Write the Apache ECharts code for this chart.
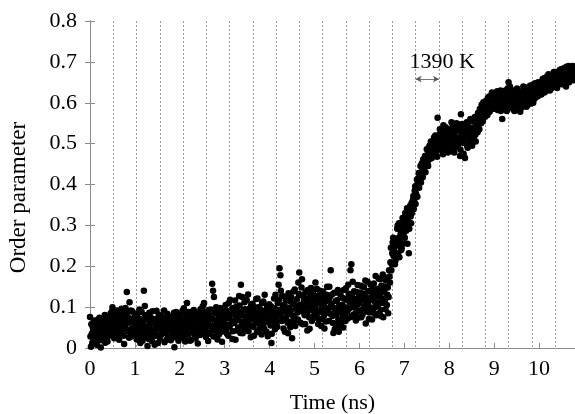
<!DOCTYPE html>
<html>
<head>
<meta charset="utf-8">
<script src="https://cdn.jsdelivr.net/npm/echarts@6/dist/echarts.min.js"></script>
<style>
html,body{margin:0;padding:0;background:#fff;}
#chart{width:575px;height:414px;}
</style>
</head>
<body>
<div id="chart"></div>
<script>
// Order parameter vs time (ns): [time_ns, order_parameter]
const t0to1 = [[0.00,0.076],[0.02,0.003],[0.04,0.035],[0.06,0.052],[0.08,0.018],[0.10,0.044],[0.12,0.061],[0.14,0.027],[0.16,0.039],[0.18,0.070],
[0.20,0.022],[0.22,0.048],[0.24,0.001],[0.26,0.057],[0.28,0.034],[0.30,0.066],[0.32,0.041],[0.34,0.013],[0.36,0.078],[0.38,0.050],
[0.40,0.029],[0.42,0.062],[0.44,0.045],[0.46,0.085],[0.48,0.037],[0.50,0.100],[0.52,0.055],[0.54,0.024],[0.56,0.071],[0.58,0.047],
[0.60,0.092],[0.62,0.060],[0.64,0.033],[0.66,0.082],[0.68,0.054],[0.70,0.096],[0.72,0.043],[0.74,0.069],[0.76,0.010],[0.78,0.087],
[0.80,0.058],[0.82,0.137],[0.84,0.075],[0.86,0.040],[0.88,0.112],[0.90,0.064],[0.92,0.028],[0.94,0.090],[0.96,0.051],[0.98,0.073],
[0.01,0.028],[0.03,0.058],[0.05,0.012],[0.07,0.042],[0.09,0.067],[0.11,0.030],[0.13,0.050],[0.15,0.008],[0.17,0.056],[0.19,0.036],
[0.21,0.074],[0.23,0.019],[0.25,0.046],[0.27,0.063],[0.29,0.025],[0.31,0.053],[0.33,0.081],[0.35,0.038],[0.37,0.060],[0.39,0.016],
[0.41,0.072],[0.43,0.052],[0.45,0.031],[0.47,0.065],[0.49,0.090],[0.51,0.043],[0.53,0.076],[0.55,0.060],[0.57,0.034],[0.59,0.082],
[0.61,0.049],[0.63,0.070],[0.65,0.020],[0.67,0.061],[0.69,0.040],[0.71,0.079],[0.73,0.055],[0.75,0.030],[0.77,0.068],[0.79,0.098],
[0.81,0.045],[0.83,0.080],[0.85,0.062],[0.87,0.025],[0.89,0.071],[0.91,0.092],[0.93,0.048],[0.95,0.066],[0.97,0.035],[0.99,0.084]];
const t1to2 = [[1.00,0.046],[1.02,0.083],[1.04,0.021],[1.06,0.059],[1.08,0.037],[1.10,0.094],[1.12,0.012],[1.14,0.068],[1.16,0.031],[1.18,0.052],
[1.20,0.140],[1.22,0.103],[1.24,0.026],[1.26,0.074],[1.28,0.005],[1.30,0.049],[1.32,0.086],[1.34,0.035],[1.36,0.061],[1.38,0.017],
[1.40,0.070],[1.42,0.044],[1.44,0.008],[1.46,0.057],[1.48,0.091],[1.50,0.030],[1.52,0.066],[1.54,0.048],[1.56,0.023],[1.58,0.079],
[1.60,0.055],[1.62,0.038],[1.64,0.072],[1.66,0.014],[1.68,0.060],[1.70,0.042],[1.72,0.084],[1.74,0.027],[1.76,0.065],[1.78,0.050],
[1.80,0.019],[1.82,0.077],[1.84,0.036],[1.86,0.058],[1.88,0.002],[1.90,0.047],[1.92,0.088],[1.94,0.033],[1.96,0.063],[1.98,0.040],
[1.01,0.062],[1.03,0.040],[1.05,0.078],[1.07,0.025],[1.09,0.056],[1.11,0.071],[1.13,0.044],[1.15,0.088],[1.17,0.018],[1.19,0.064],
[1.21,0.035],[1.23,0.080],[1.25,0.052],[1.27,0.041],[1.29,0.069],[1.31,0.022],[1.33,0.058],[1.35,0.075],[1.37,0.045],[1.39,0.090],
[1.41,0.028],[1.43,0.063],[1.45,0.039],[1.47,0.071],[1.49,0.053],[1.51,0.012],[1.53,0.082],[1.55,0.046],[1.57,0.060],[1.59,0.033],
[1.61,0.073],[1.63,0.050],[1.65,0.092],[1.67,0.037],[1.69,0.067],[1.71,0.021],[1.73,0.055],[1.75,0.078],[1.77,0.043],[1.79,0.062],
[1.81,0.030],[1.83,0.069],[1.85,0.052],[1.87,0.086],[1.89,0.026],[1.91,0.061],[1.93,0.045],[1.95,0.075],[1.97,0.018],[1.99,0.057]];
const t2to3 = [[2.00,0.072],[2.02,0.025],[2.04,0.056],[2.06,0.091],[2.08,0.043],[2.10,0.067],[2.12,0.016],[2.14,0.080],[2.16,0.110],[2.18,0.052],
[2.20,0.034],[2.22,0.075],[2.24,0.061],[2.26,0.020],[2.28,0.089],[2.30,0.047],[2.32,0.068],[2.34,0.031],[2.36,0.082],[2.38,0.058],
[2.40,0.011],[2.42,0.073],[2.44,0.045],[2.46,0.095],[2.48,0.038],[2.50,0.064],[2.52,0.084],[2.54,0.110],[2.56,0.050],[2.58,0.027],
[2.60,0.077],[2.62,0.060],[2.64,0.093],[2.66,0.035],[2.68,0.070],[2.70,0.054],[2.72,0.157],[2.74,0.140],[2.76,0.125],[2.78,0.066],
[2.80,0.042],[2.82,0.086],[2.84,0.021],[2.86,0.074],[2.88,0.057],[2.90,0.098],[2.92,0.039],[2.94,0.015],[2.96,0.081],[2.98,0.062],
[2.01,0.048],[2.03,0.083],[2.05,0.036],[2.07,0.062],[2.09,0.097],[2.11,0.054],[2.13,0.029],[2.15,0.071],[2.17,0.045],[2.19,0.088],
[2.21,0.059],[2.23,0.018],[2.25,0.076],[2.27,0.042],[2.29,0.066],[2.31,0.093],[2.33,0.051],[2.35,0.024],[2.37,0.070],[2.39,0.040],
[2.41,0.085],[2.43,0.057],[2.45,0.032],[2.47,0.074],[2.49,0.060],[2.51,0.102],[2.53,0.046],[2.55,0.068],[2.57,0.088],[2.59,0.039],
[2.61,0.061],[2.63,0.017],[2.65,0.079],[2.67,0.053],[2.69,0.094],[2.71,0.043],[2.73,0.072],[2.75,0.028],[2.77,0.086],[2.79,0.058],
[2.81,0.100],[2.83,0.049],[2.85,0.067],[2.87,0.033],[2.89,0.078],[2.91,0.055],[2.93,0.091],[2.95,0.070],[2.97,0.044],[2.99,0.087]];
const t3to4 = [[3.00,0.070],[3.02,0.105],[3.04,0.048],[3.06,0.088],[3.08,0.030],[3.10,0.076],[3.12,0.118],[3.14,0.059],[3.16,0.095],[3.18,0.041],
[3.20,0.083],[3.22,0.064],[3.24,0.020],[3.26,0.101],[3.28,0.072],[3.30,0.050],[3.32,0.127],[3.34,0.086],[3.36,0.155],[3.38,0.061],
[3.40,0.036],[3.42,0.093],[3.44,0.112],[3.46,0.068],[3.48,0.045],[3.50,0.080],[3.52,0.131],[3.54,0.057],[3.56,0.097],[3.58,0.026],
[3.60,0.074],[3.62,0.108],[3.64,0.052],[3.66,0.089],[3.68,0.066],[3.70,0.120],[3.72,0.039],[3.74,0.079],[3.76,0.100],[3.78,0.058],
[3.80,0.085],[3.82,0.033],[3.84,0.071],[3.86,0.114],[3.88,0.047],[3.90,0.092],[3.92,0.063],[3.94,0.104],[3.96,0.029],[3.98,0.077],
[3.01,0.058],[3.03,0.092],[3.05,0.035],[3.07,0.074],[3.09,0.110],[3.11,0.053],[3.13,0.085],[3.15,0.067],[3.17,0.022],[3.19,0.098],
[3.21,0.061],[3.23,0.116],[3.25,0.078],[3.27,0.043],[3.29,0.090],[3.31,0.069],[3.33,0.104],[3.35,0.037],[3.37,0.081],[3.39,0.125],
[3.41,0.064],[3.43,0.049],[3.45,0.095],[3.47,0.076],[3.49,0.117],[3.51,0.060],[3.53,0.041],[3.55,0.087],[3.57,0.070],[3.59,0.106],
[3.61,0.054],[3.63,0.091],[3.65,0.030],[3.67,0.079],[3.69,0.099],[3.71,0.062],[3.73,0.121],[3.75,0.083],[3.77,0.046],[3.79,0.095],
[3.81,0.072],[3.83,0.110],[3.85,0.057],[3.87,0.088],[3.89,0.130],[3.91,0.075],[3.93,0.040],[3.95,0.096],[3.97,0.064],[3.99,0.107]];
const t4to5 = [[4.00,0.083],[4.02,0.055],[4.04,0.012],[4.06,0.098],[4.08,0.070],[4.10,0.121],[4.12,0.046],[4.14,0.088],[4.16,0.064],[4.18,0.110],
[4.20,0.155],[4.22,0.195],[4.24,0.178],[4.26,0.092],[4.28,0.128],[4.30,0.073],[4.32,0.105],[4.34,0.040],[4.36,0.116],[4.38,0.085],
[4.40,0.062],[4.42,0.134],[4.44,0.097],[4.46,0.051],[4.48,0.124],[4.50,0.024],[4.52,0.079],[4.54,0.110],[4.56,0.143],[4.58,0.068],
[4.60,0.101],[4.62,0.087],[4.64,0.160],[4.66,0.185],[4.68,0.130],[4.70,0.094],[4.72,0.168],[4.74,0.058],[4.76,0.113],[4.78,0.080],
[4.80,0.137],[4.82,0.100],[4.84,0.043],[4.86,0.122],[4.88,0.075],[4.90,0.108],[4.92,0.147],[4.94,0.066],[4.96,0.091],[4.98,0.118],
[4.01,0.068],[4.03,0.102],[4.05,0.035],[4.07,0.084],[4.09,0.060],[4.11,0.097],[4.13,0.130],[4.15,0.074],[4.17,0.052],[4.19,0.093],
[4.21,0.118],[4.23,0.081],[4.25,0.140],[4.27,0.066],[4.29,0.104],[4.31,0.048],[4.33,0.089],[4.35,0.125],[4.37,0.071],[4.39,0.099],
[4.41,0.036],[4.43,0.083],[4.45,0.115],[4.47,0.092],[4.49,0.065],[4.51,0.108],[4.53,0.138],[4.55,0.077],[4.57,0.054],[4.59,0.096],
[4.61,0.120],[4.63,0.070],[4.65,0.132],[4.67,0.105],[4.69,0.062],[4.71,0.148],[4.73,0.089],[4.75,0.126],[4.77,0.101],[4.79,0.059],
[4.81,0.114],[4.83,0.085],[4.85,0.142],[4.87,0.097],[4.89,0.047],[4.91,0.128],[4.93,0.106],[4.95,0.076],[4.97,0.134],[4.99,0.093]];
const t5to6 = [[5.00,0.104],[5.02,0.160],[5.04,0.082],[5.06,0.127],[5.08,0.059],[5.10,0.113],[5.12,0.140],[5.14,0.090],[5.16,0.071],[5.18,0.132],
[5.20,0.101],[5.22,0.048],[5.24,0.119],[5.26,0.086],[5.28,0.150],[5.30,0.097],[5.32,0.066],[5.34,0.125],[5.36,0.190],[5.38,0.108],
[5.40,0.078],[5.42,0.037],[5.44,0.135],[5.46,0.093],[5.48,0.056],[5.50,0.117],[5.52,0.142],[5.54,0.040],[5.56,0.088],[5.58,0.129],
[5.60,0.063],[5.62,0.106],[5.64,0.050],[5.66,0.121],[5.68,0.084],[5.70,0.146],[5.72,0.098],[5.74,0.072],[5.76,0.133],[5.78,0.112],
[5.80,0.190],[5.82,0.205],[5.84,0.124],[5.86,0.081],[5.88,0.139],[5.90,0.102],[5.92,0.067],[5.94,0.118],[5.96,0.154],[5.98,0.090],
[5.01,0.125],[5.03,0.095],[5.05,0.145],[5.07,0.073],[5.09,0.109],[5.11,0.088],[5.13,0.122],[5.15,0.054],[5.17,0.100],[5.19,0.138],
[5.21,0.079],[5.23,0.112],[5.25,0.065],[5.27,0.130],[5.29,0.092],[5.31,0.117],[5.33,0.150],[5.35,0.084],[5.37,0.104],[5.39,0.131],
[5.41,0.061],[5.43,0.098],[5.45,0.046],[5.47,0.115],[5.49,0.082],[5.51,0.136],[5.53,0.070],[5.55,0.104],[5.57,0.052],[5.59,0.094],
[5.61,0.123],[5.63,0.078],[5.65,0.142],[5.67,0.100],[5.69,0.066],[5.71,0.118],[5.73,0.089],[5.75,0.155],[5.77,0.096],[5.79,0.128],
[5.81,0.076],[5.83,0.110],[5.85,0.162],[5.87,0.100],[5.89,0.120],[5.91,0.085],[5.93,0.137],[5.95,0.106],[5.97,0.074],[5.99,0.127]];
const t6to7 = [[6.00,0.110],[6.02,0.136],[6.04,0.075],[6.06,0.128],[6.08,0.096],[6.10,0.149],[6.12,0.115],[6.14,0.060],[6.16,0.123],[6.18,0.162],
[6.20,0.104],[6.22,0.087],[6.24,0.140],[6.26,0.119],[6.28,0.070],[6.30,0.131],[6.32,0.158],[6.34,0.099],[6.36,0.176],[6.38,0.126],
[6.40,0.083],[6.42,0.145],[6.44,0.112],[6.46,0.168],[6.48,0.078],[6.50,0.137],[6.52,0.180],[6.54,0.121],[6.56,0.150],[6.58,0.095],
[6.60,0.172],[6.62,0.130],[6.64,0.085],[6.66,0.190],[6.68,0.160],[6.70,0.245],[6.72,0.205],[6.74,0.258],[6.76,0.225],[6.78,0.250],
[6.80,0.213],[6.82,0.268],[6.84,0.292],[6.86,0.232],[6.88,0.305],[6.90,0.262],[6.92,0.285],[6.94,0.244],[6.96,0.318],[6.98,0.276],
[6.01,0.092],[6.03,0.152],[6.05,0.118],[6.07,0.082],[6.09,0.133],[6.11,0.101],[6.13,0.165],[6.15,0.124],[6.17,0.090],[6.19,0.139],
[6.21,0.071],[6.23,0.117],[6.25,0.155],[6.27,0.098],[6.29,0.129],[6.31,0.086],[6.33,0.144],[6.35,0.112],[6.37,0.080],[6.39,0.136],
[6.41,0.104],[6.43,0.170],[6.45,0.126],[6.47,0.093],[6.49,0.152],[6.51,0.110],[6.53,0.075],[6.55,0.140],[6.57,0.118],[6.59,0.165],
[6.61,0.105],[6.63,0.148],[6.65,0.125],[6.67,0.175],[6.69,0.210],[6.71,0.190],[6.73,0.232],[6.75,0.270],[6.77,0.240],[6.79,0.205],
[6.81,0.255],[6.83,0.228],[6.85,0.300],[6.87,0.250],[6.89,0.222],[6.91,0.275],[6.93,0.240],[6.95,0.298],[6.97,0.255],[6.99,0.310]];
const t7to8 = [[7.00,0.300],[7.02,0.330],[7.04,0.287],[7.06,0.342],[7.08,0.310],[7.10,0.232],[7.12,0.335],[7.14,0.322],[7.16,0.355],[7.18,0.338],
[7.20,0.372],[7.22,0.360],[7.24,0.395],[7.26,0.378],[7.28,0.412],[7.30,0.400],[7.32,0.428],[7.34,0.410],[7.36,0.445],[7.38,0.425],
[7.40,0.438],[7.42,0.462],[7.44,0.433],[7.46,0.470],[7.48,0.448],[7.50,0.486],[7.52,0.455],[7.54,0.475],[7.56,0.495],[7.58,0.463],
[7.60,0.482],[7.62,0.502],[7.64,0.470],[7.66,0.515],[7.68,0.490],[7.70,0.478],[7.72,0.508],[7.74,0.563],[7.76,0.495],[7.78,0.522],
[7.80,0.485],[7.82,0.530],[7.84,0.505],[7.86,0.474],[7.88,0.518],[7.90,0.497],[7.92,0.540],[7.94,0.512],[7.96,0.488],[7.98,0.527],
[7.01,0.270],[7.03,0.318],[7.05,0.300],[7.07,0.255],[7.09,0.325],[7.11,0.292],[7.13,0.348],[7.15,0.305],[7.17,0.330],[7.19,0.362],
[7.21,0.340],[7.23,0.385],[7.25,0.352],[7.27,0.398],[7.29,0.370],[7.31,0.415],[7.33,0.392],[7.35,0.420],[7.37,0.405],[7.39,0.452],
[7.41,0.418],[7.43,0.445],[7.45,0.458],[7.47,0.430],[7.49,0.465],[7.51,0.472],[7.53,0.445],[7.55,0.490],[7.57,0.478],[7.59,0.505],
[7.61,0.465],[7.63,0.488],[7.65,0.498],[7.67,0.476],[7.69,0.520],[7.71,0.495],[7.73,0.468],[7.75,0.512],[7.77,0.488],[7.79,0.535],
[7.81,0.505],[7.83,0.492],[7.85,0.522],[7.87,0.545],[7.89,0.486],[7.91,0.515],[7.93,0.500],[7.95,0.532],[7.97,0.478],[7.99,0.510]];
const t8to9 = [[8.00,0.503],[8.02,0.535],[8.04,0.516],[8.06,0.482],[8.08,0.545],[8.10,0.508],[8.12,0.526],[8.14,0.492],[8.16,0.550],[8.18,0.514],
[8.20,0.498],[8.22,0.532],[8.24,0.470],[8.26,0.572],[8.28,0.520],[8.30,0.505],[8.32,0.475],[8.34,0.541],[8.36,0.512],[8.38,0.528],
[8.40,0.495],[8.42,0.548],[8.44,0.517],[8.46,0.536],[8.48,0.501],[8.50,0.525],[8.52,0.555],[8.54,0.510],[8.56,0.540],[8.58,0.522],
[8.60,0.560],[8.62,0.533],[8.64,0.575],[8.66,0.548],[8.68,0.585],[8.70,0.562],[8.72,0.595],[8.74,0.570],[8.76,0.601],[8.78,0.582],
[8.80,0.566],[8.82,0.605],[8.84,0.588],[8.86,0.612],[8.88,0.594],[8.90,0.578],[8.92,0.616],[8.94,0.600],[8.96,0.585],[8.98,0.620],
[8.01,0.488],[8.03,0.522],[8.05,0.552],[8.07,0.500],[8.09,0.530],[8.11,0.478],[8.13,0.540],[8.15,0.515],[8.17,0.492],[8.19,0.548],
[8.21,0.510],[8.23,0.535],[8.25,0.485],[8.27,0.525],[8.29,0.548],[8.31,0.502],[8.33,0.530],[8.35,0.465],[8.37,0.518],[8.39,0.552],
[8.41,0.490],[8.43,0.528],[8.45,0.505],[8.47,0.560],[8.49,0.520],[8.51,0.495],[8.53,0.538],[8.55,0.518],[8.57,0.565],[8.59,0.505],
[8.61,0.545],[8.63,0.528],[8.65,0.558],[8.67,0.535],[8.69,0.572],[8.71,0.550],[8.73,0.580],[8.75,0.555],[8.77,0.590],[8.79,0.600],
[8.81,0.578],[8.83,0.595],[8.85,0.570],[8.87,0.605],[8.89,0.615],[8.91,0.590],[8.93,0.602],[8.95,0.625],[8.97,0.598],[8.99,0.588]];
const t9to10 = [[9.00,0.603],[9.02,0.590],[9.04,0.625],[9.06,0.608],[9.08,0.582],[9.10,0.615],[9.12,0.597],[9.14,0.630],[9.16,0.605],[9.18,0.560],
[9.20,0.588],[9.22,0.620],[9.24,0.600],[9.26,0.612],[9.28,0.580],[9.30,0.635],[9.32,0.650],[9.34,0.607],[9.36,0.592],[9.38,0.624],
[9.40,0.610],[9.42,0.585],[9.44,0.618],[9.46,0.598],[9.48,0.632],[9.50,0.606],[9.52,0.590],[9.54,0.622],[9.56,0.612],[9.58,0.578],
[9.60,0.603],[9.62,0.628],[9.64,0.595],[9.66,0.615],[9.68,0.636],[9.70,0.608],[9.72,0.590],[9.74,0.625],[9.76,0.612],[9.78,0.640],
[9.80,0.618],[9.82,0.598],[9.84,0.632],[9.86,0.620],[9.88,0.645],[9.90,0.610],[9.92,0.628],[9.94,0.638],[9.96,0.615],[9.98,0.650],
[9.01,0.618],[9.03,0.600],[9.05,0.585],[9.07,0.628],[9.09,0.603],[9.11,0.592],[9.13,0.614],[9.15,0.580],[9.17,0.625],[9.19,0.598],
[9.21,0.608],[9.23,0.585],[9.25,0.630],[9.27,0.596],[9.29,0.617],[9.31,0.602],[9.33,0.588],[9.35,0.640],[9.37,0.612],[9.39,0.595],
[9.41,0.628],[9.43,0.604],[9.45,0.580],[9.47,0.615],[9.49,0.597],[9.51,0.635],[9.53,0.610],[9.55,0.592],[9.57,0.626],[9.59,0.605],
[9.61,0.588],[9.63,0.618],[9.65,0.640],[9.67,0.600],[9.69,0.620],[9.71,0.630],[9.73,0.605],[9.75,0.595],[9.77,0.628],[9.79,0.612],
[9.81,0.642],[9.83,0.608],[9.85,0.625],[9.87,0.600],[9.89,0.632],[9.91,0.648],[9.93,0.615],[9.95,0.625],[9.97,0.640],[9.99,0.618]];
const t10to11 = [[10.00,0.632],[10.02,0.622],[10.04,0.648],[10.06,0.635],[10.08,0.658],[10.10,0.640],[10.12,0.625],[10.14,0.652],[10.16,0.644],[10.18,0.665],
[10.20,0.638],[10.22,0.655],[10.24,0.630],[10.26,0.662],[10.28,0.648],[10.30,0.670],[10.32,0.642],[10.34,0.658],[10.36,0.675],[10.38,0.650],
[10.40,0.636],[10.42,0.668],[10.44,0.655],[10.46,0.680],[10.48,0.646],[10.50,0.662],[10.52,0.672],[10.54,0.650],[10.56,0.685],[10.58,0.660],
[10.60,0.640],[10.62,0.676],[10.64,0.665],[10.66,0.690],[10.68,0.655],[10.70,0.672],[10.72,0.682],[10.74,0.660],[10.76,0.678],[10.78,0.668],
[10.01,0.645],[10.03,0.638],[10.05,0.620],[10.07,0.652],[10.09,0.630],[10.11,0.660],[10.13,0.642],[10.15,0.628],[10.17,0.655],[10.19,0.646],
[10.21,0.670],[10.23,0.640],[10.25,0.652],[10.27,0.635],[10.29,0.665],[10.31,0.655],[10.33,0.675],[10.35,0.645],[10.37,0.660],[10.39,0.642],
[10.41,0.672],[10.43,0.650],[10.45,0.665],[10.47,0.658],[10.49,0.682],[10.51,0.645],[10.53,0.668],[10.55,0.660],[10.57,0.675],[10.59,0.652],
[10.61,0.688],[10.63,0.658],[10.65,0.672],[10.67,0.650],[10.69,0.680],[10.71,0.662],[10.73,0.675],[10.75,0.690],[10.77,0.655],[10.79,0.680]];

const xRange = [0, 10.8];
const yRange = [0, 0.8];
const xTickStep = 1;
const yTickStep = 0.1;
const dottedLineStep = 0.518;   // spacing of the vertical dotted guide lines (ns)
const annotationText = '1390 K';
const annotationSpan = [7.25, 7.77]; // arrow start/end (ns)
const annotationArrowY = 0.658;
const annotationLabelPos = [7.84, 0.700];

const allPoints = [].concat(t0to1, t1to2, t2to3, t3to4, t4to5, t5to6, t6to7, t7to8, t8to9, t9to10, t10to11);

const FONT = '"Liberation Serif", "DejaVu Serif", serif';
const AXIS_COLOR = '#8c8c8c';

const chart = echarts.init(document.getElementById('chart'), null, {renderer: 'canvas'});
chart.setOption({
  animation: false,
  backgroundColor: '#ffffff',
  grid: {left: 90, right: 0, top: 21, bottom: 66, containLabel: false, outerBoundsMode: 'none'},
  xAxis: [
    {
      type: 'value', min: xRange[0], max: xRange[1], interval: xTickStep, position: 'bottom',
      name: 'Time (ns)', nameLocation: 'middle', nameGap: 44,
      nameTextStyle: {fontFamily: FONT, fontSize: 22, color: '#000'},
      axisLine: {show: true, lineStyle: {color: AXIS_COLOR, width: 1}},
      axisTick: {show: true, inside: true, length: 5, lineStyle: {color: AXIS_COLOR}},
      axisLabel: {show: true, fontFamily: FONT, fontSize: 22, color: '#000', margin: 10, showMaxLabel: false},
      splitLine: {show: false}
    },
    {
      type: 'value', min: xRange[0], max: xRange[1], interval: dottedLineStep, position: 'top',
      axisLine: {show: true, lineStyle: {color: AXIS_COLOR, width: 1}},
      axisTick: {show: false},
      axisLabel: {show: false},
      splitLine: {show: true, lineStyle: {color: '#9a9a9a', width: 1, type: [2, 2]}}
    }
  ],
  yAxis: [
    {
      type: 'value', min: yRange[0], max: yRange[1], interval: yTickStep, position: 'left',
      name: 'Order parameter', nameLocation: 'middle', nameGap: 60, nameRotate: 90,
      nameTextStyle: {fontFamily: FONT, fontSize: 23, color: '#000', padding: [0, 26, 0, 0]},
      axisLine: {show: true, lineStyle: {color: AXIS_COLOR, width: 1}},
      axisTick: {show: true, inside: true, length: 5, lineStyle: {color: AXIS_COLOR}},
      axisLabel: {show: true, fontFamily: FONT, fontSize: 22, color: '#000', margin: 13},
      splitLine: {show: false}
    },
    {
      type: 'value', min: yRange[0], max: yRange[1], interval: yTickStep, position: 'right',
      axisLine: {show: true, lineStyle: {color: AXIS_COLOR, width: 1}},
      axisTick: {show: true, inside: true, length: 5, lineStyle: {color: AXIS_COLOR}},
      axisLabel: {show: false},
      splitLine: {show: false}
    }
  ],
  series: [
    {
      type: 'scatter', xAxisIndex: 0, yAxisIndex: 0,
      data: allPoints, symbol: 'circle', symbolSize: 6.5,
      itemStyle: {color: '#000', opacity: 1},
      silent: true,
      markLine: {
        silent: true,
        symbol: ['arrow', 'arrow'], symbolSize: [5, 6],
        lineStyle: {color: '#555', width: 0.8, type: 'solid'},
        label: {show: false},
        data: [[{coord: [annotationSpan[0], annotationArrowY]}, {coord: [annotationSpan[1], annotationArrowY]}]]
      },
      markPoint: {
        silent: true,
        symbol: 'circle', symbolSize: 0,
        label: {show: true, position: 'inside', formatter: annotationText, fontFamily: FONT, fontSize: 22, color: '#000'},
        data: [{coord: annotationLabelPos}]
      }
    }
  ]
});
</script>
</body>
</html>
